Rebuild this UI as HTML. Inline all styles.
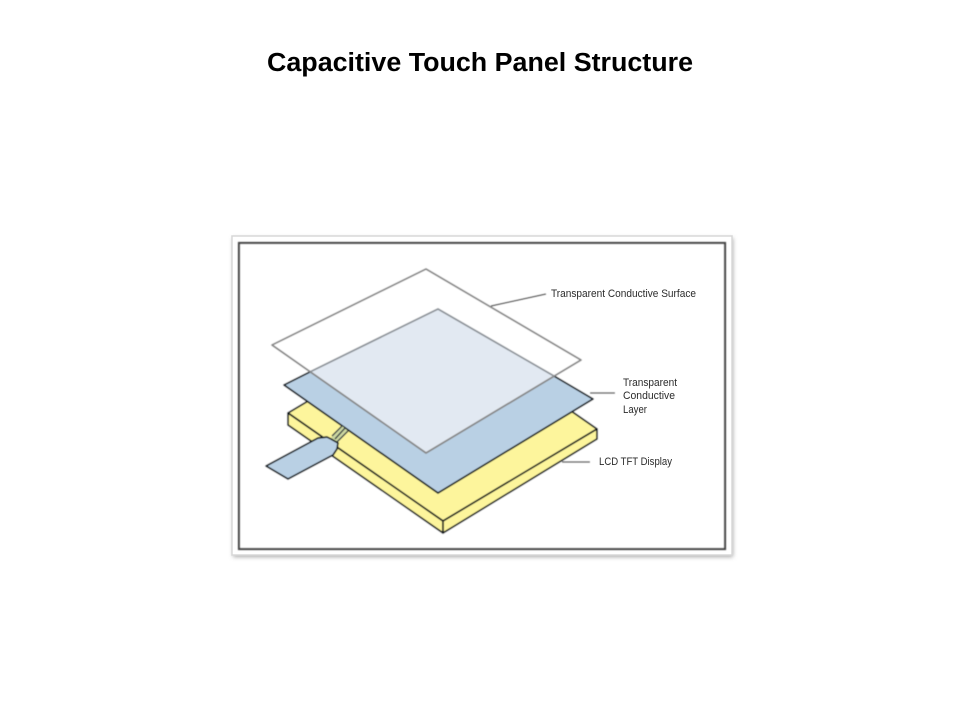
<!DOCTYPE html>
<html><head><meta charset="utf-8"><style>
html,body{margin:0;padding:0;background:#fff}
svg{display:block}
</style></head><body>
<svg width="960" height="720" viewBox="0 0 960 720" xmlns="http://www.w3.org/2000/svg">
<defs>
<filter id="s" x="-5%" y="-5%" width="110%" height="110%"><feGaussianBlur stdDeviation="2"/></filter>
<filter id="b" x="-5%" y="-5%" width="110%" height="110%"><feGaussianBlur stdDeviation="0.4"/></filter>
<filter id="t" x="-5%" y="-20%" width="110%" height="140%"><feGaussianBlur stdDeviation="0.25"/></filter>
</defs>
<text x="480" y="71" text-anchor="middle" font-family="'Liberation Sans',sans-serif" font-weight="700" font-size="25.5" textLength="426" lengthAdjust="spacingAndGlyphs" fill="#000">Capacitive Touch Panel Structure</text>
<rect x="233" y="238" width="500" height="319" fill="#aaa" filter="url(#s)"/>
<rect x="232" y="236" width="500" height="319" fill="#fff" stroke="#d8d8d8" stroke-width="1.5"/>
<g filter="url(#b)">
<rect x="239" y="243" width="486" height="306" fill="#fff" stroke="#4a4a4a" stroke-width="2.2"/>
<g stroke="#10191f" stroke-width="1.7" stroke-linejoin="round">
<polygon points="288,413 443,521 597,429 442,321" fill="#fdf59c"/>
<polygon points="288,413 288,425 443,533 443,521" fill="#fdf59c"/>
<polygon points="443,521 443,533 597,439 597,429" fill="#fdf59c"/>
<polygon points="438,309 284,385 438,493 593,399" fill="#b9d0e4" stroke="none"/>
<path d="M310.5,371.6 L284,385 L438,493 L593,399 L554,376" fill="none"/>
<polygon points="331,438 342,426 348,431 337,442" fill="#cdd8a0" stroke="none"/>
<path d="M332,436 L342,426 M335,439 L345,428 M337,442 L348,431" stroke="#2c3640" stroke-width="1.4" fill="none"/>
<path d="M266,466 L288,479 L333,455 L337,449 L338,443 L331,439 L327,437 L318,438 Z" fill="#b9d0e4"/>
</g>
<polygon points="438,309 554,376 426,453 310.5,371.6" fill="#e2e9f2"/>
<polygon points="426,269 272,345 426,453 581,360" fill="none" stroke="#858585" stroke-width="1.7" stroke-linejoin="round"/>
<path d="M310.5,371.6 L438,309 L554,376" fill="none" stroke="#8a9096" stroke-width="1.7"/>
<g stroke="#333" stroke-width="1.2" fill="none">
<path d="M491,306 L546,294"/>
<path d="M590,393 L615,393"/>
<path d="M562,462 L590,462"/>
</g>
</g>
<g filter="url(#t)" font-family="'Liberation Sans',sans-serif" font-size="10.6" fill="#2c2c2c">
<text x="551" y="297" textLength="145" lengthAdjust="spacingAndGlyphs">Transparent Conductive Surface</text>
<text x="623" y="386" textLength="54" lengthAdjust="spacingAndGlyphs">Transparent</text>
<text x="623" y="399" textLength="52" lengthAdjust="spacingAndGlyphs">Conductive</text>
<text x="623" y="413" textLength="24" lengthAdjust="spacingAndGlyphs">Layer</text>
<text x="599" y="465" textLength="73" lengthAdjust="spacingAndGlyphs">LCD TFT Display</text>
</g>
</svg>
</body></html>
